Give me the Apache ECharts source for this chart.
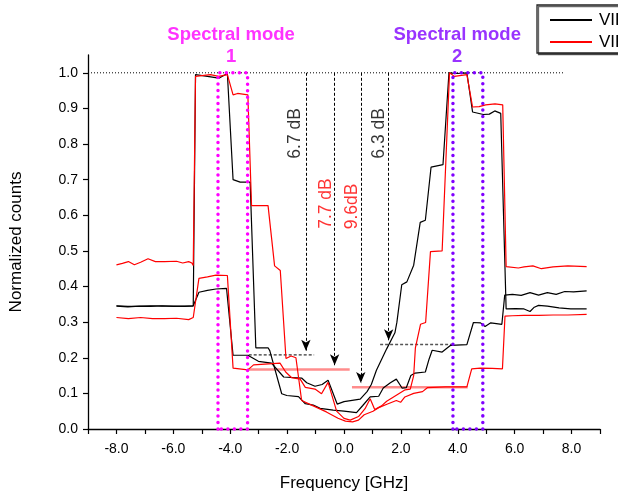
<!DOCTYPE html>
<html><head><meta charset="utf-8">
<script src="https://cdn.jsdelivr.net/npm/echarts@6/dist/echarts.min.js"></script>
<style>html,body{margin:0;padding:0;background:#fff}#c{width:618px;height:497px}</style>
</head><body><div id="c"></div>
<script>
// ---------- data ----------
const seriesNames = ['VIPA-1', 'VIPA-2'];

// black, peak at spectral mode 1
const bk1F = [-8,-7.6,-7.2,-6.8,-6.4,-6.0,-5.6,-5.3,-5.22,-4.8,-4.4,-4.1,-3.9,-3.65,-3.3,-3.1,-2.67,-2.61,-2.19,-2.01,-1.6,-1.36,-1.08,-0.84,-0.38,0.0,0.44,0.66,0.92,1.22,1.38,1.63,1.84,2.04,2.19,2.35,2.5,2.86,2.99,3.1,3.45,3.75,4.32,4.55,4.8,4.96,5.16,5.55,5.65,5.92,6.23,6.54,6.84,7.15,7.46,7.76,8.07,8.53];
const bk1V = [0.345,0.343,0.345,0.344,0.346,0.344,0.345,0.345,0.995,0.99,0.985,0.998,0.70,0.693,0.693,0.228,0.228,0.22,0.099,0.094,0.091,0.071,0.067,0.058,0.053,0.05,0.046,0.066,0.09,0.092,0.115,0.13,0.14,0.115,0.116,0.15,0.157,0.16,0.196,0.221,0.216,0.235,0.237,0.299,0.298,0.288,0.298,0.294,0.376,0.378,0.375,0.383,0.376,0.383,0.378,0.386,0.385,0.388];

// black, peak at spectral mode 2
const bk2F = [-8,-7.6,-7.2,-6.8,-6.4,-6.0,-5.6,-5.3,-5.1,-4.8,-4.5,-4.13,-3.9,-3.38,-3.01,-2.55,-2.12,-1.49,-1.31,-1.02,-0.77,-0.56,-0.24,0.0,0.57,0.81,0.96,1.14,1.5,1.79,1.86,2.03,2.21,2.45,2.68,2.86,3.06,3.48,3.69,3.98,4.32,4.52,4.9,5.11,5.3,5.51,5.7,6.03,6.33,6.54,6.69,6.84,7.15,7.56,7.97,8.53];
const bk2V = [0.346,0.344,0.344,0.346,0.345,0.345,0.344,0.346,0.384,0.389,0.393,0.395,0.207,0.207,0.19,0.185,0.146,0.143,0.13,0.12,0.125,0.137,0.07,0.077,0.084,0.105,0.125,0.165,0.225,0.27,0.3,0.405,0.413,0.46,0.58,0.586,0.735,0.742,1.0,0.998,1.0,0.89,0.883,0.884,0.893,0.886,0.337,0.338,0.337,0.33,0.342,0.347,0.345,0.34,0.337,0.337];

// red, peak at spectral mode 1
const rd1F = [-8,-7.79,-7.58,-7.37,-7.15,-6.89,-6.63,-6.31,-5.89,-5.67,-5.46,-5.35,-5.3,-5.22,-4.7,-4.4,-4.1,-3.9,-3.74,-3.38,-3.25,-2.67,-2.44,-2.24,-2.04,-1.86,-1.69,-1.49,-1.08,-0.62,-0.21,0.05,0.3,0.51,0.71,1.02,1.22,1.53,1.84,1.99,2.14,2.45,2.76,2.93,3.57,4.32,4.49,4.79,5.21,5.57,5.66,5.92,6.33,6.84,7.35,7.87,8.53];
const rd1V = [0.461,0.465,0.47,0.461,0.468,0.478,0.47,0.47,0.471,0.466,0.47,0.466,0.459,0.99,0.995,0.99,0.995,0.938,0.942,0.938,0.627,0.627,0.458,0.445,0.198,0.205,0.2,0.08,0.065,0.048,0.03,0.022,0.02,0.025,0.04,0.05,0.06,0.07,0.08,0.075,0.09,0.1,0.105,0.116,0.118,0.118,0.169,0.171,0.17,0.169,0.317,0.318,0.319,0.319,0.32,0.32,0.322];

// red, peak at spectral mode 2
const rd2F = [-8,-7.58,-7.15,-6.73,-6.31,-5.89,-5.46,-5.3,-5.1,-4.8,-4.5,-4.1,-3.9,-3.38,-3.18,-2.25,-2.05,-1.84,-1.54,-1.36,-1.02,-0.79,-0.56,-0.26,0.0,0.22,0.51,0.74,0.92,1.08,1.32,1.5,1.84,2.15,2.33,2.45,2.51,2.69,2.87,3.04,3.45,3.71,3.88,4.32,4.52,4.75,4.98,5.31,5.58,5.7,6.13,6.33,6.64,6.94,7.35,7.87,8.53];
const rd2V = [0.313,0.31,0.313,0.31,0.31,0.311,0.307,0.313,0.423,0.427,0.432,0.431,0.171,0.166,0.18,0.185,0.16,0.144,0.14,0.117,0.112,0.099,0.131,0.05,0.03,0.025,0.035,0.057,0.085,0.055,0.065,0.078,0.095,0.11,0.112,0.15,0.228,0.294,0.299,0.498,0.5,1.0,0.99,0.995,0.904,0.905,0.91,0.913,0.91,0.456,0.452,0.455,0.458,0.45,0.455,0.458,0.456];

// axes
const xTickValues = [-9,-8,-7,-6,-5,-4,-3,-2,-1,0,1,2,3,4,5,6,7,8,9];
const xLabelValues = [-8,-6,-4,-2,0,2,4,6,8];
const yTickValues = [0,0.1,0.2,0.3,0.4,0.5,0.6,0.7,0.8,0.9,1.0];

// spectral modes
const modeBands = [[-4.43,-3.39],[3.83,4.88]];
const modeLabelX = [-3.97, 3.98];
const modeNames = ['1','2'];
const modeTitle = 'Spectral mode';
const refLevel = 1.0;
const refLineEnd = 7.7;

// extinction annotations
const arrowX = [-1.34,-0.33,0.59,1.57];
const levelY = [0.208,0.167,0.117,0.237];
const levelFrom = [-3.35,-3.4,0.28,1.27];
const levelTo = [-1.05,0.2,4.35,3.8];
const dbText = ['6.7 dB','7.7 dB','9.6dB','6.3 dB'];
const dbTextX = [-1.7,-0.62,0.3,1.24];
const dbTextY = [0.83,0.633,0.625,0.83];

// ---------- styles ----------
const FONT = '"Liberation Sans", Arial, sans-serif';
const BLACK = '#000000', RED = '#ff0000';
const modeColors = ['#ff00ff', '#8000ff'];
const levelStyles = [
  {color:'#000000', width:1, type:[3,2]},
  {color:'rgba(255,0,0,0.45)', width:2.5, type:'solid'},
  {color:'rgba(255,0,0,0.45)', width:2.5, type:'solid'},
  {color:'#555555', width:1.5, type:[3,2]}
];
const dbColors = [BLACK, RED, RED, BLACK];

const zip = (f, v) => f.map((x, i) => [x, v[i]]);

const series = [];
function curve(name, color, f, v) {
  series.push({type:'line', name, data: zip(f, v), symbol:'none', silent:true,
    lineStyle:{color, width:1.2}, itemStyle:{color}, z:3});
}
curve(seriesNames[0], BLACK, bk1F, bk1V);
curve(seriesNames[0], BLACK, bk2F, bk2V);
curve(seriesNames[1], RED, rd1F, rd1V);
curve(seriesNames[1], RED, rd2F, rd2V);

// reference line at 1.0
series.push({type:'line', data:[[-9, refLevel],[refLineEnd, refLevel]], symbol:'none', silent:true,
  lineStyle:{color:'#000', width:1, type:[1,2]}, z:2});

// level lines
levelY.forEach((y, i) => {
  series.push({type:'line', data:[[levelFrom[i], y],[levelTo[i], y]], symbol:'none', silent:true,
    lineStyle: levelStyles[i], z:2});
});

// mode rectangles
modeBands.forEach((b, i) => {
  series.push({type:'line', data:[[b[0],0],[b[0],refLevel],[b[1],refLevel],[b[1],0],[b[0],0]],
    symbol:'none', silent:true, clip:false,
    lineStyle:{color:modeColors[i], width:3.5, type:[0.01,6.5], cap:'round'}, z:5});
});

// text annotations (dB labels and mode titles) + arrows
const annData = dbText.map((t, i) => ({value:[dbTextX[i], dbTextY[i]],
  label:{formatter:t, color:dbColors[i], rotate:90, fontSize:17.5}}));
modeLabelX.forEach((c, i) => {
  annData.push({value:[c, 1.107], label:{formatter:modeTitle, color:modeColors[i], fontSize:18.5, fontWeight:'bold'}});
  annData.push({value:[c, 1.044], label:{formatter:modeNames[i], color:modeColors[i], fontSize:18.5, fontWeight:'bold'}});
});
series.push({type:'scatter', data:annData, symbolSize:0, clip:false, silent:true, z:6,
  label:{show:true, position:'inside', fontFamily:FONT},
  markLine:{silent:true, animation:false, symbol:['none','arrow'], symbolSize:[7,11],
    label:{show:false}, lineStyle:{color:'#000', width:1, type:[3,2]},
    data: arrowX.map((x, i) => [{coord:[x, refLevel]}, {coord:[x, levelY[i] + 0.012]}])}
});

const option = {
  animation:false,
  textStyle:{fontFamily:FONT},
  grid:{left:83, right:18, top:55, bottom:57, containLabel:false},
  legend:{
    data:seriesNames, orient:'vertical', left:537, top:5,
    padding:[6,10,2,13], itemGap:4, itemWidth:42, itemHeight:2, icon:'rect',
    borderColor:'#222', borderWidth:1.3, backgroundColor:'#fff',
    shadowColor:'rgba(0,0,0,0.6)', shadowOffsetX:1.5, shadowOffsetY:1.5, shadowBlur:0,
    textStyle:{fontSize:17, color:'#000', fontFamily:FONT, lineHeight:18, padding:[0,0,0,2]},
    selectedMode:false
  },
  xAxis:{type:'value', min:-9, max:9,
    name:'Frequency [GHz]', nameLocation:'middle', nameGap:46,
    nameTextStyle:{fontSize:17, color:'#000', fontFamily:FONT},
    axisLine:{onZero:false, lineStyle:{color:'#000', width:1.3}},
    axisTick:{show:true, length:5, customValues:xTickValues, lineStyle:{color:'#000', width:1.2}},
    axisLabel:{customValues:xLabelValues, formatter:v => v.toFixed(1), fontSize:14, color:'#000', margin:13, fontFamily:FONT},
    splitLine:{show:false}
  },
  yAxis:{type:'value', min:0, max:1.05,
    name:'Normalized counts', nameLocation:'middle', nameGap:63, nameRotate:90,
    nameTextStyle:{fontSize:17, color:'#000', fontFamily:FONT},
    axisLine:{show:true, onZero:false, lineStyle:{color:'#000', width:1.3}},
    axisTick:{show:true, length:5, customValues:yTickValues, lineStyle:{color:'#000', width:1.2}},
    axisLabel:{customValues:yTickValues, formatter:v => v.toFixed(1), fontSize:14, color:'#000', margin:10, fontFamily:FONT},
    splitLine:{show:false}
  },
  series
};
const chart = echarts.init(document.getElementById('c'), null, {renderer:'canvas'});
chart.setOption(option);
</script></body></html>
